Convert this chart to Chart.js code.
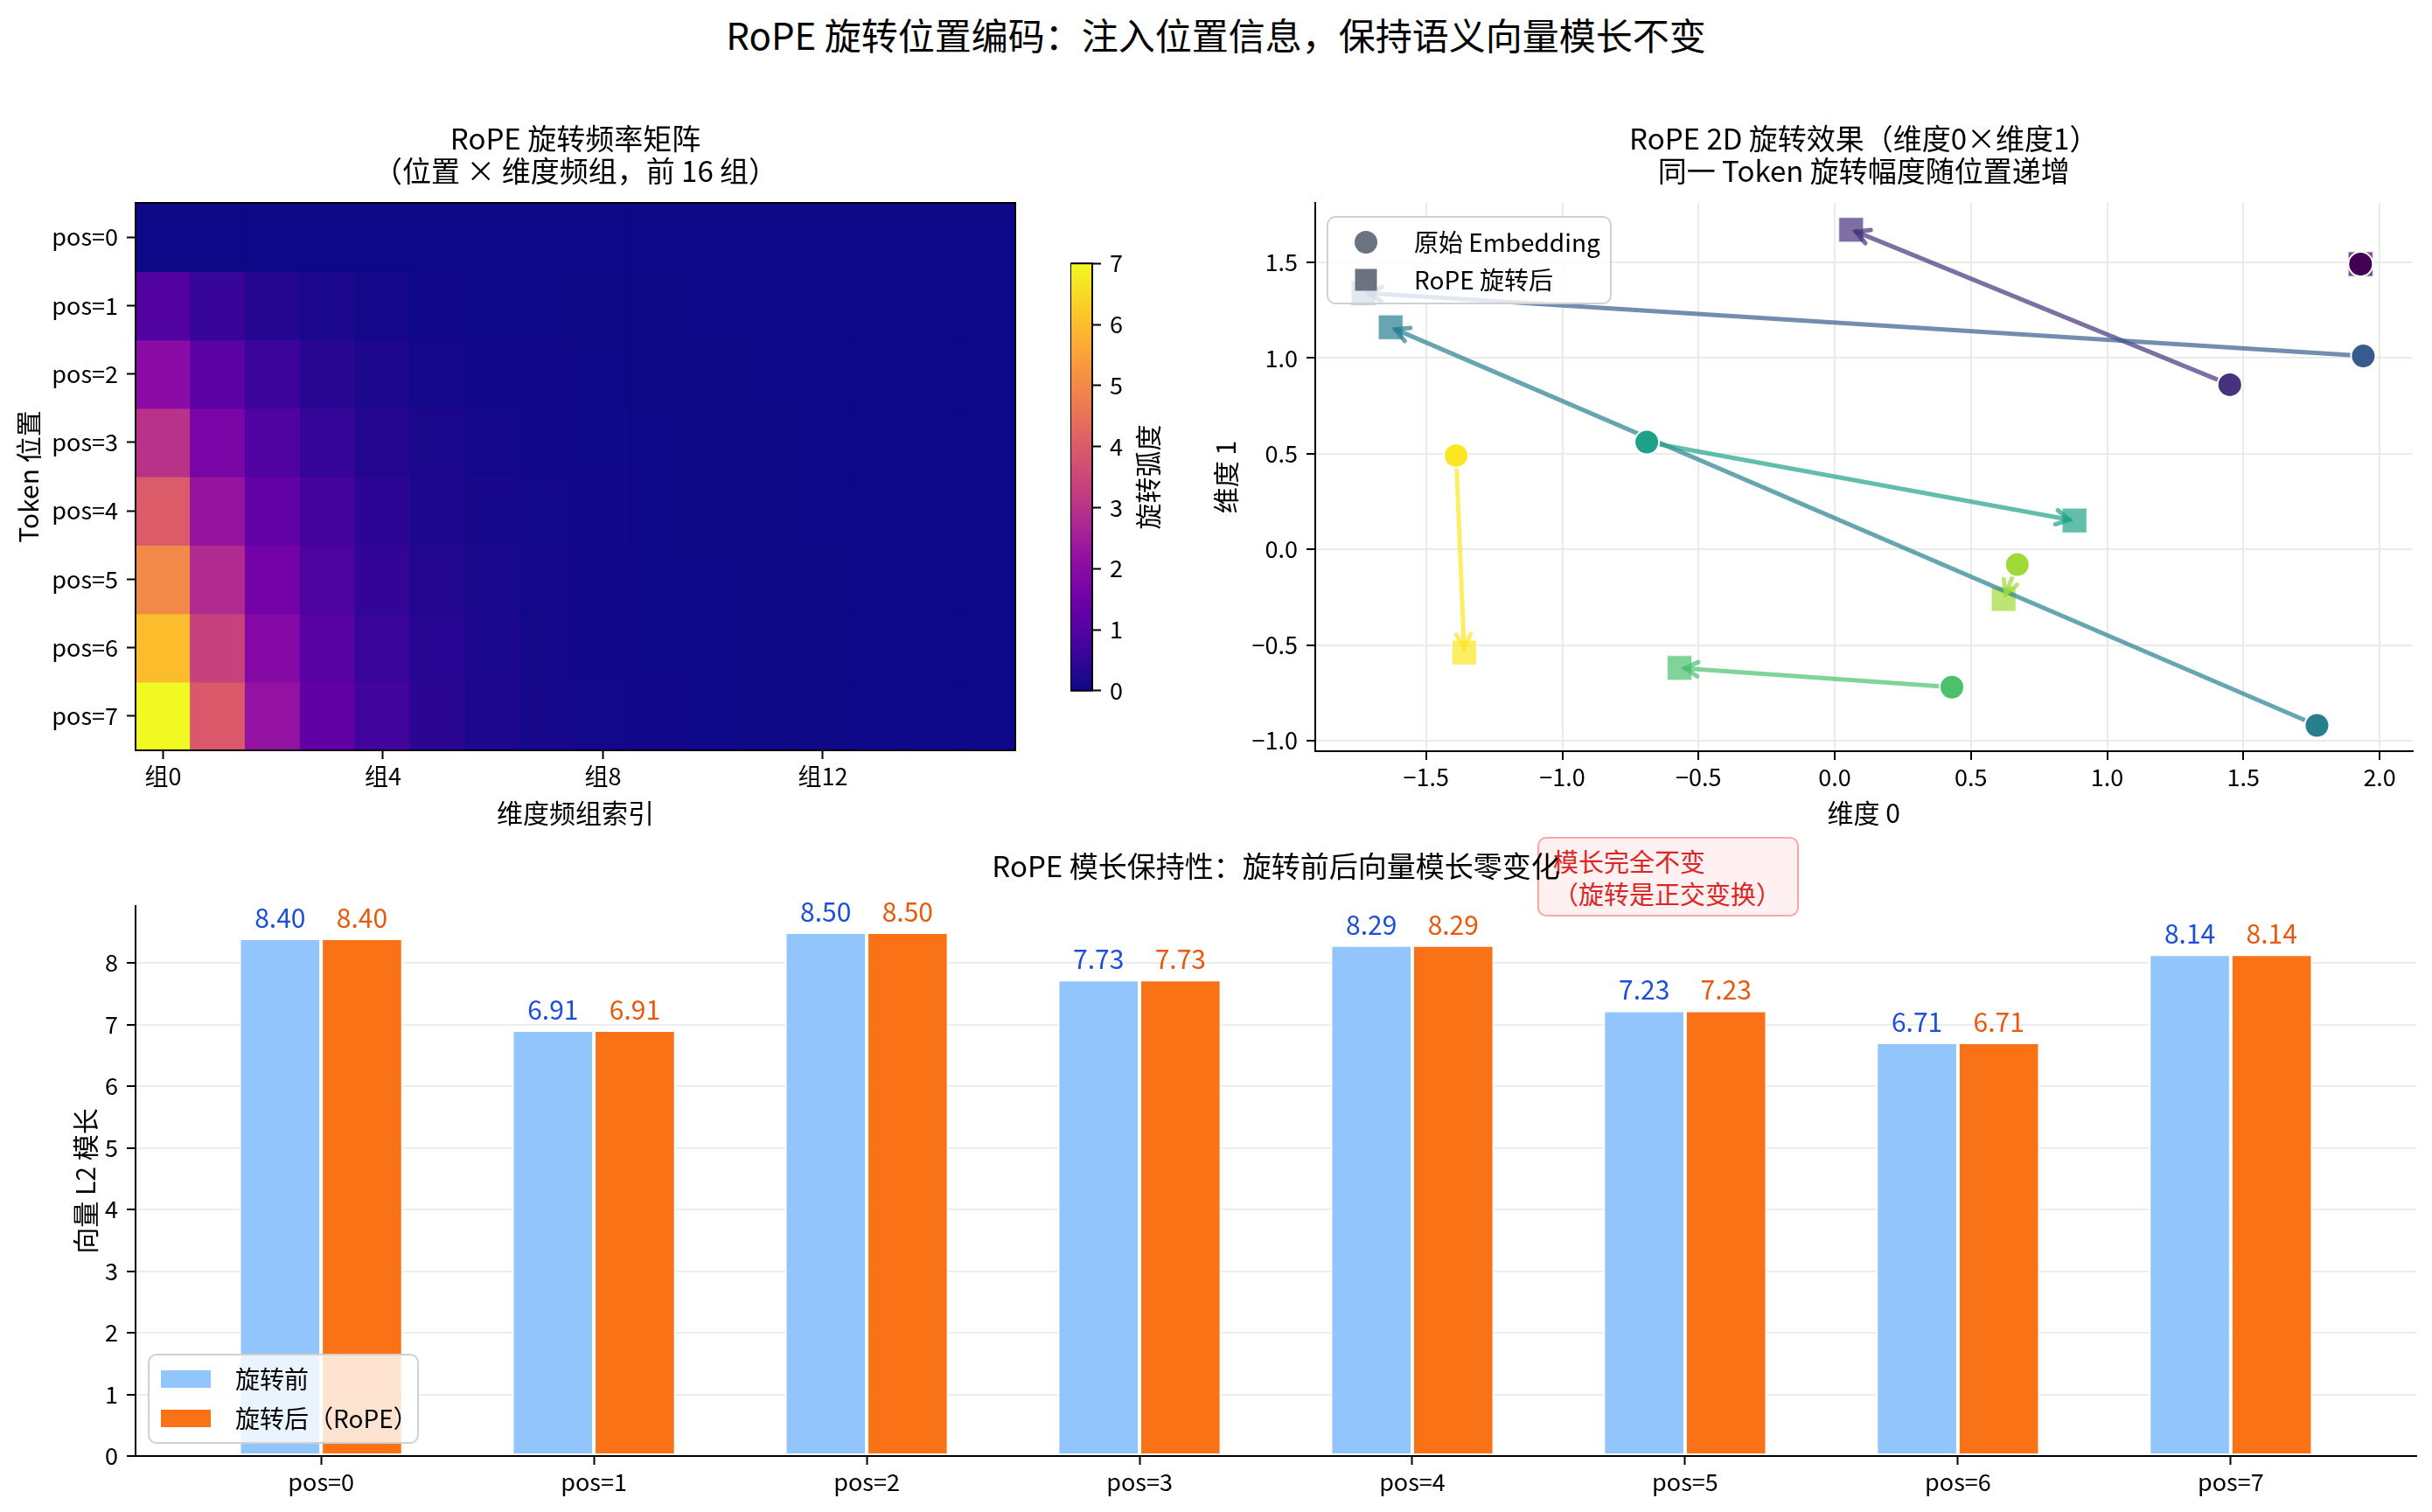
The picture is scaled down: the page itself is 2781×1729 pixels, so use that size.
<!DOCTYPE html>
<html>
<head>
<meta charset="utf-8">
<script src="https://cdn.jsdelivr.net/npm/chart.js@4.4.1/dist/chart.umd.min.js"></script>
<style>
  html, body { margin: 0; padding: 0; background: #fff; }
  body { width: 2781px; height: 1729px; position: relative; overflow: hidden; font-family: "Noto Sans CJK SC", sans-serif; }
  canvas { position: absolute; z-index: 1; }
  #suptitle { position: absolute; left: 0; top: 14px; width: 2781px; text-align: center; font-size: 42px; line-height: 50px; color: #000; }
  #note {
    position: absolute; z-index: 0; left: 1758px; top: 957px; width: 299px; height: 91px;
    box-sizing: border-box; border: 2px solid #fca5a5; border-radius: 10px; background: #fff1f1;
    padding: 7px 0 0 16px; color: #dc2626; font-size: 29px; line-height: 37px; white-space: pre;
  }
</style>
</head>
<body>
<div id="suptitle">RoPE 旋转位置编码：注入位置信息，保持语义向量模长不变</div>
<div id="note">模长完全不变
（旋转是正交变换）</div>
<canvas id="heat" width="1190" height="808" style="left:0;top:140px"></canvas>
<canvas id="cbar" width="146" height="541" style="left:1224px;top:275px"></canvas>
<canvas id="scatter" width="1401" height="808" style="left:1380px;top:140px"></canvas>
<canvas id="bars" width="2781" height="757" style="left:0;top:972px"></canvas>
<script>
// ---- 数据 ----
const groupLabels = ['组0','组1','组2','组3','组4','组5','组6','组7','组8','组9','组10','组11','组12','组13','组14','组15'];
const groupTicks  = [0, 4, 8, 12];
const posLabels   = ['pos=0','pos=1','pos=2','pos=3','pos=4','pos=5','pos=6','pos=7'];

// 旋转弧度矩阵（位置 × 维度频组）
const heat = [
  [0.00, 0.00, 0.00, 0.00, 0.00, 0.00, 0.00, 0.00, 0.00, 0.00, 0.00, 0.00, 0.00, 0.00, 0.00, 0.00],
  [1.00, 0.56, 0.32, 0.18, 0.10, 0.06, 0.03, 0.02, 0.01, 0.01, 0.00, 0.00, 0.00, 0.00, 0.00, 0.00],
  [2.00, 1.12, 0.63, 0.36, 0.20, 0.11, 0.06, 0.04, 0.02, 0.01, 0.01, 0.00, 0.00, 0.00, 0.00, 0.00],
  [3.00, 1.69, 0.95, 0.53, 0.30, 0.17, 0.09, 0.05, 0.03, 0.02, 0.01, 0.01, 0.00, 0.00, 0.00, 0.00],
  [4.00, 2.25, 1.26, 0.71, 0.40, 0.22, 0.13, 0.07, 0.04, 0.02, 0.01, 0.01, 0.00, 0.00, 0.00, 0.00],
  [5.00, 2.81, 1.58, 0.89, 0.50, 0.28, 0.16, 0.09, 0.05, 0.03, 0.02, 0.01, 0.01, 0.00, 0.00, 0.00],
  [6.00, 3.37, 1.90, 1.07, 0.60, 0.34, 0.19, 0.11, 0.06, 0.03, 0.02, 0.01, 0.01, 0.00, 0.00, 0.00],
  [7.00, 3.94, 2.21, 1.24, 0.70, 0.39, 0.22, 0.12, 0.07, 0.04, 0.02, 0.01, 0.01, 0.00, 0.00, 0.00]
];
const heatMax   = 7;
const cbarTicks = [0, 1, 2, 3, 4, 5, 6, 7];
const cbarLabel = '旋转弧度';

// 2D 旋转：原始点 / 旋转后
const origX = [1.93, 1.45, 1.94, 1.77, -0.69, 0.43, 0.67, -1.39];
const origY = [1.49, 0.86, 1.01, -0.92, 0.56, -0.72, -0.08, 0.49];
const rotX  = [1.93, 0.06, -1.73, -1.63, 0.88, -0.57, 0.62, -1.36];
const rotY  = [1.49, 1.67, 1.34, 1.16, 0.15, -0.62, -0.26, -0.54];
const posColors = ['#440154','#46327e','#365c8d','#277f8e','#1fa187','#4ac16d','#a0da39','#fde725'];
const scatterXTicks = [-1.5, -1.0, -0.5, 0.0, 0.5, 1.0, 1.5, 2.0];
const scatterYTicks = [-1.0, -0.5, 0.0, 0.5, 1.0, 1.5];

// 模长
const normBefore = [8.40, 6.91, 8.50, 7.73, 8.29, 7.23, 6.71, 8.14];
const normAfter  = [8.40, 6.91, 8.50, 7.73, 8.29, 7.23, 6.71, 8.14];
const barYTicks  = [0, 1, 2, 3, 4, 5, 6, 7, 8];

// ---- 工具 ----
const PLASMA = ['#0d0887','#41049d','#6a00a8','#8f0da4','#b12a90','#cc4778','#e16462','#f2844b','#fca636','#fcce25','#f0f921'];
function hexRgb(h) { return [parseInt(h.slice(1,3),16), parseInt(h.slice(3,5),16), parseInt(h.slice(5,7),16)]; }
function rgba(h, a) { const c = hexRgb(h); return `rgba(${c[0]},${c[1]},${c[2]},${a})`; }
function plasma(t) {
  t = Math.max(0, Math.min(1, t));
  const s = t * 10, i = Math.min(9, Math.floor(s)), f = s - i;
  const a = hexRgb(PLASMA[i]), b = hexRgb(PLASMA[i + 1]);
  return `rgb(${Math.round(a[0]+(b[0]-a[0])*f)},${Math.round(a[1]+(b[1]-a[1])*f)},${Math.round(a[2]+(b[2]-a[2])*f)})`;
}
function fmt1(v) { return (v < 0 ? '\u2212' : '') + Math.abs(v).toFixed(1); }
function roundRect(ctx, x, y, w, h, r) {
  ctx.beginPath();
  ctx.moveTo(x + r, y);
  ctx.arcTo(x + w, y, x + w, y + h, r);
  ctx.arcTo(x + w, y + h, x, y + h, r);
  ctx.arcTo(x, y + h, x, y, r);
  ctx.arcTo(x, y, x + w, y, r);
  ctx.closePath();
}
function legendFrame(ctx, x, y, w, h) {
  ctx.save();
  roundRect(ctx, x, y, w, h, 9);
  ctx.fillStyle = 'rgba(255,255,255,0.8)';
  ctx.fill();
  ctx.strokeStyle = '#d0d0d0';
  ctx.lineWidth = 2;
  ctx.stroke();
  ctx.restore();
}

Chart.defaults.font.family = '"Noto Sans CJK SC", sans-serif';
Chart.defaults.font.size = 27;
Chart.defaults.color = '#000';
Chart.defaults.animation = false;
Chart.defaults.plugins.legend.display = false;
Chart.defaults.plugins.tooltip.enabled = false;

const FONT_TICK  = { size: 27 };
const FONT_LABEL = { size: 30 };
const FONT_TITLE = { size: 33, weight: 'normal', lineHeight: 37 / 33 };

const tickGrid = { display: true, drawOnChartArea: false, offset: false, tickLength: 10, tickWidth: 2, tickColor: '#000' };

// 四边框
const framePlugin = {
  id: 'frame',
  afterDraw(chart) {
    const { ctx, chartArea: a } = chart;
    ctx.save();
    ctx.strokeStyle = '#000';
    ctx.lineWidth = 2;
    ctx.strokeRect(a.left, a.top, a.right - a.left, a.bottom - a.top);
    ctx.restore();
  }
};

// ---- 热力图 ----
new Chart(document.getElementById('heat'), {
  type: 'bar',
  data: {
    labels: groupLabels,
    datasets: heat.map((row, r) => ({
      data: row.map(() => [r - 0.5, r + 0.5]),
      backgroundColor: row.map(v => plasma(v / heatMax)),
      borderWidth: 0,
      inflateAmount: 0.8,
      grouped: false,
      barPercentage: 1,
      categoryPercentage: 1
    }))
  },
  options: {
    responsive: false,
    devicePixelRatio: 1,
    layout: { padding: { right: 29 } },
    plugins: {
      title: { display: true, text: ['RoPE 旋转频率矩阵', '（位置 × 维度频组，前 16 组）'], font: FONT_TITLE, color: '#000', fullSize: false, padding: { top: 0, bottom: 18 } }
    },
    scales: {
      x: {
        type: 'category',
        offset: true,
        grid: tickGrid,
        border: { display: false },
        ticks: { font: FONT_TICK, autoSkip: false, maxRotation: 0, padding: 4 },
        afterBuildTicks: s => { s.ticks = groupTicks.map(v => ({ value: v })); },
        afterFit: s => { s.height = 90; },
        title: { display: true, text: '维度频组索引', font: FONT_LABEL, padding: { top: 0, bottom: 0 } }
      },
      y: {
        type: 'linear',
        reverse: true,
        min: -0.5,
        max: 7.5,
        grid: tickGrid,
        border: { display: false },
        ticks: { font: FONT_TICK, padding: 10, callback: v => posLabels[v] },
        afterBuildTicks: s => { s.ticks = posLabels.map((_, i) => ({ value: i })); },
        afterFit: s => { s.width = 155; },
        title: { display: true, text: 'Token 位置', font: FONT_LABEL, padding: { top: 15, bottom: 0 } }
      }
    }
  },
  plugins: [framePlugin]
});

// ---- 色条 ----
new Chart(document.getElementById('cbar'), {
  type: 'bar',
  data: {
    labels: ['c'],
    datasets: [{
      data: [[0, heatMax]],
      barPercentage: 1,
      categoryPercentage: 1,
      borderWidth: 0,
      backgroundColor: (c) => {
        const a = c.chart.chartArea;
        if (!a) return PLASMA[0];
        const g = c.chart.ctx.createLinearGradient(0, a.bottom, 0, a.top);
        PLASMA.forEach((col, i) => g.addColorStop(i / (PLASMA.length - 1), col));
        return g;
      }
    }]
  },
  options: {
    responsive: false,
    devicePixelRatio: 1,
    layout: { padding: { top: 20, bottom: 20 } },
    scales: {
      x: { display: false },
      y: {
        position: 'right',
        min: 0,
        max: heatMax,
        grid: tickGrid,
        border: { display: false },
        ticks: { font: FONT_TICK, padding: 10 },
        afterBuildTicks: s => { s.ticks = cbarTicks.map(v => ({ value: v })); },
        afterFit: s => { s.width = 121; }
      }
    }
  },
  plugins: [framePlugin, {
    id: 'cbarLabel',
    afterDraw(chart) {
      const { ctx, chartArea: a } = chart;
      ctx.save();
      ctx.translate(a.right + 64, (a.top + a.bottom) / 2);
      ctx.rotate(-Math.PI / 2);
      ctx.font = '30px "Noto Sans CJK SC", sans-serif';
      ctx.fillStyle = '#000';
      ctx.textAlign = 'center';
      ctx.textBaseline = 'middle';
      ctx.fillText(cbarLabel, 0, 0);
      ctx.restore();
    }
  }]
});

// ---- 2D 旋转散点 ----
const arrowPlugin = {
  id: 'arrows',
  afterDatasetDraw(chart, args) {
    if (args.index !== 1) return;
    const { ctx, scales: { x, y } } = chart;
    ctx.save();
    for (let i = 0; i < origX.length; i++) {
      const x0 = x.getPixelForValue(origX[i]), y0 = y.getPixelForValue(origY[i]);
      const x1 = x.getPixelForValue(rotX[i]),  y1 = y.getPixelForValue(rotY[i]);
      const d = Math.hypot(x1 - x0, y1 - y0);
      if (d < 20) continue;
      const ux = (x1 - x0) / d, uy = (y1 - y0) / d;
      const ex = x1 - ux * 6, ey = y1 - uy * 6;
      ctx.strokeStyle = rgba(posColors[i], 0.7);
      ctx.lineWidth = 5;
      ctx.lineCap = 'round';
      ctx.beginPath();
      ctx.moveTo(x0, y0);
      ctx.lineTo(ex, ey);
      ctx.stroke();
      const ang = Math.atan2(uy, ux), L = 17, w = 0.5;
      ctx.beginPath();
      ctx.moveTo(ex - L * Math.cos(ang - w), ey - L * Math.sin(ang - w));
      ctx.lineTo(ex, ey);
      ctx.lineTo(ex - L * Math.cos(ang + w), ey - L * Math.sin(ang + w));
      ctx.stroke();
    }
    ctx.restore();
  }
};

const scatterLegend = {
  id: 'scatterLegend',
  afterDraw(chart) {
    const { ctx, chartArea: a } = chart;
    const bx = a.left + 14, by = a.top + 16;
    legendFrame(ctx, bx, by, 324, 99);
    ctx.save();
    ctx.fillStyle = '#6b7280';
    ctx.beginPath();
    ctx.arc(bx + 44, by + 29, 13, 0, Math.PI * 2);
    ctx.fill();
    ctx.fillRect(bx + 44 - 12.5, by + 72 - 12.5, 25, 25);
    ctx.fillStyle = '#000';
    ctx.font = '28px "Noto Sans CJK SC", sans-serif';
    ctx.textBaseline = 'middle';
    ctx.fillText(chart.data.datasets[0].label, bx + 99, by + 29);
    ctx.fillText(chart.data.datasets[1].label, bx + 99, by + 72);
    ctx.restore();
  }
};

new Chart(document.getElementById('scatter'), {
  type: 'scatter',
  data: {
    datasets: [
      {
        label: '原始 Embedding',
        data: origX.map((v, i) => ({ x: v, y: origY[i] })),
        pointStyle: 'circle',
        pointRadius: 14,
        pointBackgroundColor: posColors,
        pointBorderColor: '#ffffff',
        pointBorderWidth: 2
      },
      {
        label: 'RoPE 旋转后',
        data: rotX.map((v, i) => ({ x: v, y: rotY[i] })),
        pointStyle: 'rect',
        pointRadius: 20.5,
        pointBackgroundColor: posColors.map(c => rgba(c, 0.7)),
        pointBorderColor: 'rgba(255,255,255,0.8)',
        pointBorderWidth: 2
      }
    ]
  },
  options: {
    responsive: false,
    devicePixelRatio: 1,
    layout: { padding: { right: 18 } },
    plugins: {
      title: { display: true, text: ['RoPE 2D 旋转效果（维度0×维度1）', '同一 Token 旋转幅度随位置递增'], font: FONT_TITLE, color: '#000', fullSize: false, padding: { top: 0, bottom: 18 } }
    },
    scales: {
      x: {
        type: 'linear',
        min: -1.907,
        max: 2.12,
        grid: { color: '#ebebeb', lineWidth: 2, tickLength: 10, tickWidth: 2, tickColor: '#000' },
        border: { display: true, color: '#000', width: 2 },
        ticks: { font: FONT_TICK, padding: 4, callback: v => fmt1(v) },
        afterBuildTicks: s => { s.ticks = scatterXTicks.map(v => ({ value: v })); },
        afterFit: s => { s.height = 89; },
        title: { display: true, text: '维度 0', font: FONT_LABEL, padding: { top: 0, bottom: 0 } }
      },
      y: {
        type: 'linear',
        min: -1.055,
        max: 1.81,
        grid: { color: '#ebebeb', lineWidth: 2, tickLength: 10, tickWidth: 2, tickColor: '#000' },
        border: { display: true, color: '#000', width: 2 },
        ticks: { font: FONT_TICK, padding: 10, callback: v => fmt1(v) },
        afterBuildTicks: s => { s.ticks = scatterYTicks.map(v => ({ value: v })); },
        afterFit: s => { s.width = 124; },
        title: { display: true, text: '维度 1', font: FONT_LABEL, padding: { top: 4, bottom: 0 } }
      }
    }
  },
  plugins: [arrowPlugin, scatterLegend]
});

// ---- 模长柱状图 ----
const valueLabels = {
  id: 'valueLabels',
  afterDatasetsDraw(chart) {
    const { ctx } = chart;
    const colors = ['#1d4ed8', '#ea580c'];
    ctx.save();
    ctx.font = '30px "Noto Sans CJK SC", sans-serif';
    ctx.textAlign = 'center';
    ctx.textBaseline = 'alphabetic';
    chart.data.datasets.forEach((ds, d) => {
      ctx.fillStyle = colors[d];
      chart.getDatasetMeta(d).data.forEach((bar, i) => {
        ctx.fillText(ds.data[i].y.toFixed(2), bar.x, bar.y - 12);
      });
    });
    ctx.restore();
  }
};

const barLegend = {
  id: 'barLegend',
  afterDraw(chart) {
    const { ctx, chartArea: a } = chart;
    const bx = a.left + 15, by = a.bottom - 116;
    legendFrame(ctx, bx, by, 308, 101);
    ctx.save();
    chart.data.datasets.forEach((ds, d) => {
      const cy = by + 28 + d * 45;
      ctx.fillStyle = ds.backgroundColor;
      ctx.fillRect(bx + 14, cy - 10, 57, 20);
      ctx.fillStyle = '#000';
      ctx.font = '28px "Noto Sans CJK SC", sans-serif';
      ctx.textBaseline = 'middle';
      ctx.fillText(ds.label, bx + 99, cy);
    });
    ctx.restore();
  }
};

new Chart(document.getElementById('bars'), {
  type: 'bar',
  data: {
    datasets: [
      {
        label: '旋转前',
        data: normBefore.map((v, i) => ({ x: i, y: v })),
        backgroundColor: '#93c5fd',
        borderColor: '#ffffff',
        borderWidth: 2,
        borderSkipped: false,
        categoryPercentage: 0.6,
        barPercentage: 1
      },
      {
        label: '旋转后（RoPE）',
        data: normAfter.map((v, i) => ({ x: i, y: v })),
        backgroundColor: '#f97316',
        borderColor: '#ffffff',
        borderWidth: 2,
        borderSkipped: false,
        categoryPercentage: 0.6,
        barPercentage: 1
      }
    ]
  },
  options: {
    responsive: false,
    devicePixelRatio: 1,
    layout: { padding: { right: 18 } },
    plugins: {
      title: { display: true, text: 'RoPE 模长保持性：旋转前后向量模长零变化', font: FONT_TITLE, color: '#000', fullSize: false, padding: { top: 0, bottom: 27 } }
    },
    scales: {
      x: {
        type: 'linear',
        offset: false,
        min: -0.68,
        max: 7.68,
        grid: tickGrid,
        border: { display: true, color: '#000', width: 2 },
        ticks: { font: FONT_TICK, padding: 4, callback: v => posLabels[v] },
        afterBuildTicks: s => { s.ticks = posLabels.map((_, i) => ({ value: i })); },
        afterFit: s => { s.height = 64; }
      },
      y: {
        type: 'linear',
        min: 0,
        max: 8.925,
        grid: { color: '#ececec', lineWidth: 2, tickLength: 10, tickWidth: 2, tickColor: '#000' },
        border: { display: true, color: '#000', width: 2 },
        ticks: { font: FONT_TICK, padding: 10 },
        afterBuildTicks: s => { s.ticks = barYTicks.map(v => ({ value: v })); },
        afterFit: s => { s.width = 155; },
        title: { display: true, text: '向量 L2 模长', font: FONT_LABEL, padding: { top: 80, bottom: 0 } }
      }
    }
  },
  plugins: [valueLabels, barLegend]
});
</script>
</body>
</html>
